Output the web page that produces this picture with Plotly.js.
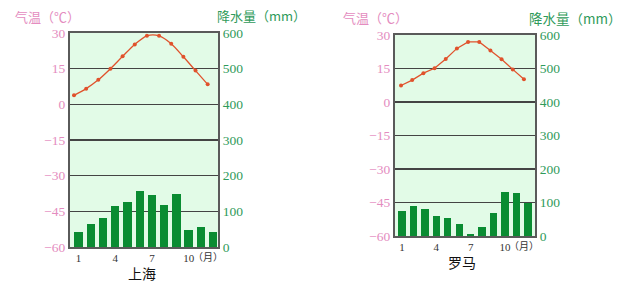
<!DOCTYPE html>
<html><head><meta charset="utf-8">
<script src="https://cdn.plot.ly/plotly-3.0.1.min.js"></script>
<style>html,body{margin:0;padding:0;background:#fff;}#c{width:625px;height:285px;}</style>
</head><body><div id="c"></div>
<script>
// ---- data ----
const months = [1,2,3,4,5,6,7,8,9,10,11,12];
const monthTickVals = [1,4,7,10];
const monthTickText = ['1','4','7','10'];
const monthUnit = '（月）';
const tempTicks = [-60,-45,-30,-15,0,15,30];
const precipTicks = [0,100,200,300,400,500,600];
const cityNames = ['上海','罗马'];
const tempTitle = '气温（℃）';
const precipTitle = '降水量（mm）';
const shanghaiTemp = [3.8, 6.6, 10.3, 15.0, 20.2, 25.2, 28.8, 28.8, 25.5, 20.0, 14.2, 8.4];
const shanghaiPrecip = [43, 64, 81, 114, 127, 158, 145, 118, 150, 48, 57, 41];
const romeTemp = [7.4, 9.8, 12.9, 15.1, 19.3, 24.0, 26.9, 26.9, 23.1, 19.1, 14.6, 10.2];
const romePrecip = [76, 90, 81, 61, 55, 37, 6, 26, 69, 130, 128, 98];

// ---- styles ----
const W = 625, H = 285;
const px = v => v / W, py = v => 1 - v / H;
const pink = '#e48cc0', green = '#2f9a5a', barGreen = '#0a8c32', lineRed = '#e0522c';
const serif = '"Liberation Serif", "Times New Roman", serif';
const cjk = '"Noto Sans CJK SC", sans-serif';

const d1x = [px(70), px(218)], d1y = [py(247), py(33)];
const d2x = [px(395), px(535)], d2y = [py(236), py(35)];

function xMain(domain, range, anchor) {
  return {domain, range, anchor, tickmode:'array', tickvals: monthTickVals, ticktext: monthTickText,
    ticks:'', showgrid:false, zeroline:false, showline:true, linecolor:'#5a5a5a', linewidth:2, mirror:true,
    tickfont:{family:serif, size:11, color:'#333'}, fixedrange:true};
}
function xOver(domain, range, overlaying, anchor) {
  return {domain, range, overlaying, anchor, visible:false, fixedrange:true};
}
function yPrecip(domain, anchor) {
  return {domain, range:[0,600], anchor, side:'right', tickmode:'array', tickvals: precipTicks,
    ticks:'', showgrid:false, zeroline:false, showline:true, linecolor:'#5a5a5a', linewidth:2,
    tickfont:{family:serif, size:13.5, color:green}, fixedrange:true};
}
function yTemp(domain, overlaying, anchor) {
  return {domain, range:[-60,30], overlaying, anchor, side:'left', tickmode:'array', tickvals: tempTicks,
    ticks:'', showgrid:true, gridcolor:'#444444', gridwidth:1.5, zeroline:false, showline:true,
    linecolor:'#5a5a5a', linewidth:2, tickfont:{family:serif, size:13.5, color:pink}, fixedrange:true};
}

const traces = [
  {type:'bar', x: months, y: shanghaiPrecip, xaxis:'x', yaxis:'y', width:0.68,
   marker:{color:barGreen}, hoverinfo:'skip'},
  {type:'scatter', mode:'lines+markers', x: months, y: shanghaiTemp, xaxis:'x2', yaxis:'y2',
   line:{color:lineRed, width:1.3, shape:'spline', smoothing:0.8}, marker:{color:lineRed, size:4}, hoverinfo:'skip'},
  {type:'bar', x: months, y: romePrecip, xaxis:'x3', yaxis:'y3', width:0.64,
   marker:{color:barGreen}, hoverinfo:'skip'},
  {type:'scatter', mode:'lines+markers', x: months, y: romeTemp, xaxis:'x4', yaxis:'y4',
   line:{color:lineRed, width:1.3}, marker:{color:lineRed, size:4}, hoverinfo:'skip'}
];

function ann(text, x, y, color, size, family) {
  return {text, x:px(x), y:py(y), xref:'paper', yref:'paper', showarrow:false,
    xanchor:'center', yanchor:'middle', borderpad:0, font:{family, size, color}};
}

const layout = {
  width: W, height: H, margin:{l:0, r:0, t:0, b:0, pad:0},
  paper_bgcolor:'#ffffff', plot_bgcolor:'#e2fbe7', showlegend:false, bargap:0,
  xaxis: xMain(d1x, [0.3, 12.4], 'y'),
  xaxis2: xOver(d1x, [0.67, 12.85], 'x', 'y'),
  yaxis: yPrecip(d1y, 'x'),
  yaxis2: yTemp(d1y, 'y', 'x'),
  xaxis3: xMain(d2x, [0.39, 12.62], 'y3'),
  xaxis4: xOver(d2x, [0.46, 12.99], 'x3', 'y3'),
  yaxis3: yPrecip(d2y, 'x3'),
  yaxis4: yTemp(d2y, 'y3', 'x3'),
  annotations: [
    ann(tempTitle, 47, 17, pink, 13, cjk),
    ann(precipTitle, 261, 16, green, 13, cjk),
    ann(monthUnit, 208, 256, '#333', 10, cjk),
    ann(cityNames[0], 142, 273, '#111', 14, cjk),
    ann(tempTitle, 375, 18, pink, 13, cjk),
    ann(precipTitle, 575, 18, green, 13.5, cjk),
    ann(monthUnit, 524, 245, '#333', 10, cjk),
    ann(cityNames[1], 462, 262, '#111', 14, cjk)
  ]
};

Plotly.newPlot('c', traces, layout, {staticPlot:true, displayModeBar:false});
</script>
</body></html>
